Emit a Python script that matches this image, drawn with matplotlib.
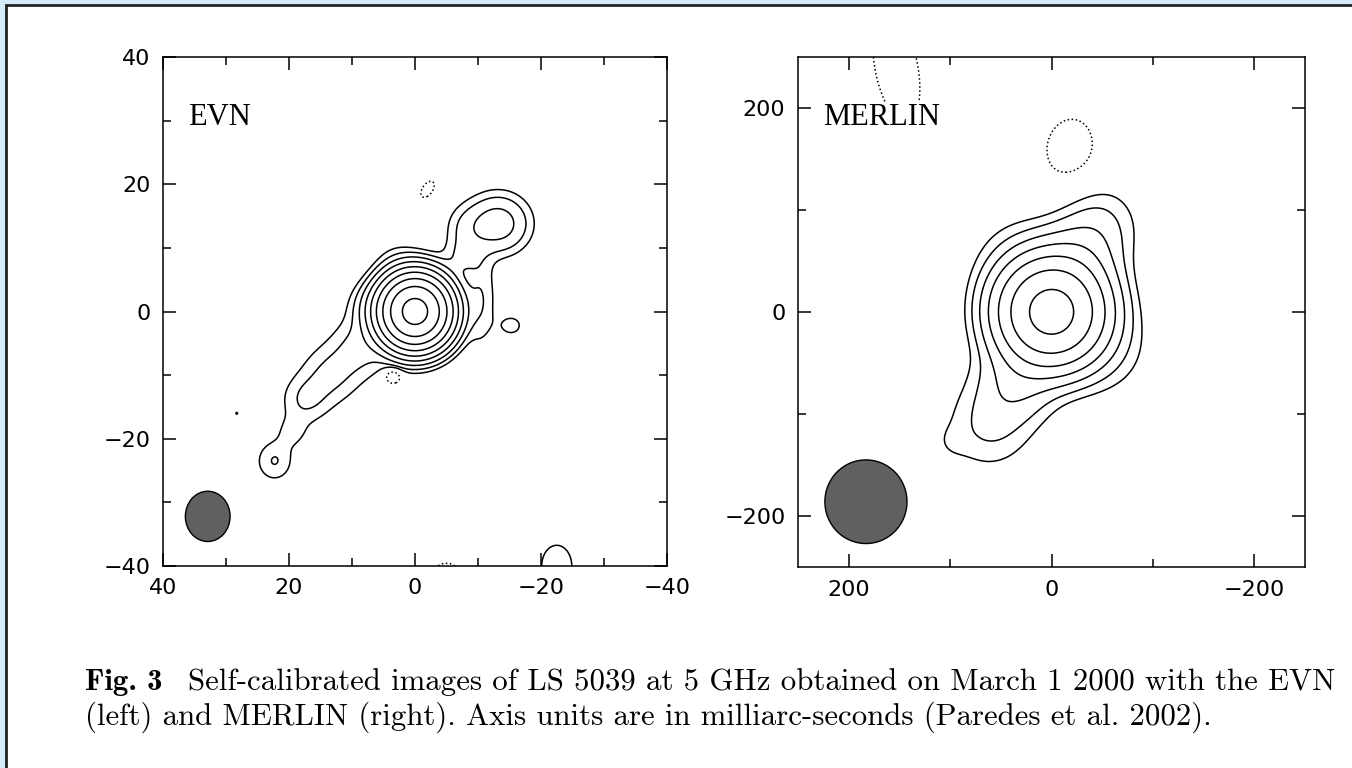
import numpy as np
import matplotlib.pyplot as plt
from matplotlib.patches import Ellipse, Rectangle

# ----------------------------------------------------------
# source components (mas)
# x, y, sigma_x, sigma_y, rotation (deg), peak (in units of lowest contour)
# ----------------------------------------------------------

evn_x = [0.0, -13.2, -8.0, -7.5, -10.5, 7.0, 3.0, 8.5, 13.5, 17.5, 19.5, 22.3,
         -15.3, 28.3, -22.5, -2.0, 3.5, -5.0]
evn_y = [0.0, 13.8, 13.0, 8.5, 2.0, 1.0, 8.0, -5.5, -10.0, -14.0, -19.0, -23.5,
         -2.2, -16.0, -40.0, 19.2, -10.2, -40.3]
evn_sx = [2.8, 3.1, 2.2, 2.0, 1.6, 2.5, 2.5, 3.2, 3.2, 2.6, 1.8, 2.0,
          1.6, 0.5, 2.2, 0.9, 1.0, 2.0]
evn_sy = [2.85, 2.9, 2.5, 2.0, 5.0, 2.5, 2.5, 3.2, 3.2, 2.6, 1.8, 2.2,
          1.4, 0.5, 3.0, 1.6, 0.9, 1.0]
evn_rot = [0, 0, 0, 0, 0, 0, 0, 0, 0, 0, 0, 0,
           0, 0, 0, 35, 0, 0]
evn_peak = [330, 5.5, 1.6, 1.8, 1.9, 1.7, 0.8, 2.3, 2.1, 1.9, 1.2, 2.05,
            1.35, 1.05, 1.8, -1.5, -2.5, -1.3]
evn_levels = [-1, 1, 2, 4, 8, 16, 32, 64, 128, 256]
evn_beam = (32.9, -32.2, 7.1, 7.9)   # x, y, width, height

merlin_x = [0.0, -30.0, -48.0, 35.0, 62.0, 100.0, -55.0, 35.0, -18.0, 153.0]
merlin_y = [0.0, 55.0, 88.0, -70.0, -112.0, -128.0, -40.0, 55.0, 161.0, 240.0]
merlin_sx = [28.5, 25.0, 25.0, 25.0, 28.0, 12.0, 30.0, 30.0, 23.0, 21.0]
merlin_sy = [28.5, 25.0, 25.0, 25.0, 28.0, 12.0, 30.0, 30.0, 29.0, 55.0]
merlin_rot = [0, 0, 0, 0, 0, 0, 0, 0, 12, -11]
merlin_peak = [85, 3.5, 1.8, 3.5, 2.1, 0.5, 1.2, 1.0, -1.6, -1.65]
merlin_levels = [-1, 1, 2, 4, 8, 16, 32, 64]
merlin_beam = (183.0, -186.0, 81.0, 82.0)

caption_bold = "Fig. 3"
caption_1 = "Self-calibrated images of LS 5039 at 5 GHz obtained on March 1 2000 with the EVN"
caption_2 = "(left) and MERLIN (right). Axis units are in milliarc-seconds (Paredes et al. 2002)."


def brightness(X, Y, xs, ys, sxs, sys_, rots, peaks):
    Z = np.zeros_like(X)
    for x0, y0, sx, sy, rot, p in zip(xs, ys, sxs, sys_, rots, peaks):
        t = np.radians(rot)
        u = (X - x0) * np.cos(t) + (Y - y0) * np.sin(t)
        v = -(X - x0) * np.sin(t) + (Y - y0) * np.cos(t)
        Z += p * np.exp(-0.5 * ((u / sx) ** 2 + (v / sy) ** 2))
    return Z


def draw_map(ax, lim, minor, Z, X, Y, levels, beam, name, ticks, ticklabels):
    styles = ['dotted' if lv < 0 else 'solid' for lv in levels]
    ax.contour(X, Y, Z, levels=levels, colors='black', linewidths=1.1,
               linestyles=styles)
    bx, by, bw, bh = beam
    ax.add_patch(Ellipse((bx, by), bw, bh, facecolor='#606060',
                         edgecolor='black', lw=1.0, zorder=3))
    ax.set_xlim(lim, -lim)
    ax.set_ylim(-lim, lim)
    ax.set_xticks(ticks)
    ax.set_xticklabels(ticklabels)
    ax.set_yticks(ticks)
    ax.set_yticklabels(ticklabels)
    ax.set_xticks(minor, minor=True)
    ax.set_yticks(minor, minor=True)
    ax.tick_params(which='both', direction='in', top=True, right=True,
                   width=1.1, labelsize=16, colors='black')
    ax.tick_params(which='major', length=9.5, pad=9)
    ax.tick_params(which='minor', length=5.5)
    for sp in ax.spines.values():
        sp.set_linewidth(1.1)
    ax.text(0.05, 0.866, name, transform=ax.transAxes, fontsize=22,
            family='Liberation Serif', va='baseline', ha='left',
            bbox=dict(facecolor='white', edgecolor='none', pad=1), zorder=5)


fig = plt.figure(figsize=(13.52, 7.68), dpi=100)

# page frame
fig.patch.set_facecolor('#d4ebfb')
fig.add_artist(Rectangle((6 / 1352, -0.05), 1.2, (768 - 5) / 768 + 0.05,
                         transform=fig.transFigure, facecolor='white',
                         edgecolor='#222222', lw=2, zorder=-5))

# EVN panel
gx = np.linspace(-40, 40, 501)
EX, EY = np.meshgrid(gx, gx)
EZ = brightness(EX, EY, evn_x, evn_y, evn_sx, evn_sy, evn_rot, evn_peak)
ax1 = fig.add_axes([163 / 1352, (768 - 566) / 768, 504 / 1352, 509 / 768])
draw_map(ax1, 40, [30, 10, -10, -30], EZ, EX, EY, evn_levels, evn_beam,
         'EVN', [40, 20, 0, -20, -40], ['40', '20', '0', '\u221220', '\u221240'])

# MERLIN panel
gm = np.linspace(-250, 250, 501)
MX, MY = np.meshgrid(gm, gm)
MZ = brightness(MX, MY, merlin_x, merlin_y, merlin_sx, merlin_sy, merlin_rot,
                merlin_peak)
ax2 = fig.add_axes([798 / 1352, (768 - 567) / 768, 507 / 1352, 510 / 768])
draw_map(ax2, 250, [100, -100], MZ, MX, MY, merlin_levels, merlin_beam,
         'MERLIN', [200, 0, -200], ['200', '0', '\u2212200'])

# caption
fig.text(85 / 1352, 1 - 690 / 768, caption_bold, fontsize=22.2, family='cmb10',
         va='baseline')
fig.text(188 / 1352, 1 - 690 / 768, caption_1, fontsize=22.2, family='cmr10',
         va='baseline')
fig.text(85 / 1352, 1 - 725 / 768, caption_2, fontsize=22.2, family='cmr10',
         va='baseline')

fig.savefig('out.png', dpi=100, facecolor=fig.get_facecolor())
